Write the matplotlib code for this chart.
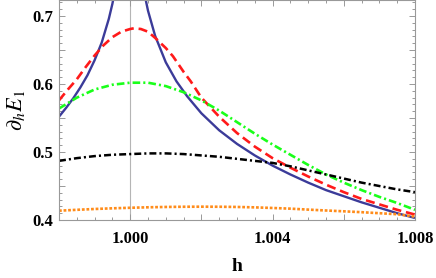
import matplotlib
matplotlib.use("Agg")
import matplotlib.pyplot as plt
from matplotlib.ticker import MultipleLocator, FuncFormatter

# readings
h_blue_left = [0.9980, 0.9982, 0.9984, 0.9986, 0.9988, 0.9990, 0.9992, 0.9994, 0.9995, 0.9996, 0.9997]
E_blue_left = [0.552, 0.565, 0.579, 0.595, 0.613, 0.635, 0.661, 0.696, 0.718, 0.745, 0.780]
h_blue_right = [1.0003, 1.0004, 1.0005, 1.0007, 1.0010, 1.0013, 1.0016, 1.0020, 1.0025, 1.0030,
                1.0035, 1.0040, 1.0045, 1.0050, 1.0055, 1.0060, 1.0065, 1.0070, 1.0075, 1.0080]
E_blue_right = [0.764, 0.733, 0.708, 0.671, 0.632, 0.604, 0.582, 0.557, 0.532, 0.512,
                0.495, 0.480, 0.467, 0.455, 0.444, 0.435, 0.426, 0.418, 0.410, 0.403]

h_red = [0.9980, 0.99825, 0.9985, 0.99875, 0.9990, 0.99925, 0.9995, 0.99975, 1.0000, 1.0001,
         1.0003, 1.0005, 1.0007, 1.0010, 1.0012, 1.0015, 1.0017, 1.0020, 1.0025, 1.0030,
         1.0035, 1.0040, 1.0045, 1.0050, 1.0055, 1.0060, 1.0065, 1.0070, 1.0075, 1.0080]
E_red = [0.576, 0.592, 0.607, 0.625, 0.642, 0.657, 0.669, 0.677, 0.681, 0.682,
         0.681, 0.677, 0.668, 0.653, 0.641, 0.618, 0.604, 0.580, 0.552, 0.528,
         0.508, 0.491, 0.477, 0.464, 0.452, 0.441, 0.431, 0.423, 0.415, 0.408]

h_grid = [0.9980, 0.9985, 0.9990, 0.9995, 1.0000, 1.0005, 1.0010, 1.0015, 1.0020, 1.0025, 1.0030,
          1.0035, 1.0040, 1.0045, 1.0050, 1.0055, 1.0060, 1.0065, 1.0070, 1.0075, 1.0080]
E_green = [0.564, 0.580, 0.592, 0.599, 0.602, 0.602, 0.597, 0.588, 0.576, 0.561, 0.544,
           0.527, 0.511, 0.496, 0.481, 0.467, 0.455, 0.444, 0.434, 0.425, 0.415]
E_black = [0.487, 0.491, 0.494, 0.496, 0.497, 0.498, 0.498, 0.497, 0.495, 0.493, 0.490,
           0.487, 0.484, 0.479, 0.473, 0.467, 0.461, 0.455, 0.450, 0.445, 0.441]
E_orange = [0.4137, 0.4150, 0.4162, 0.4172, 0.4180, 0.4187, 0.4192, 0.4195, 0.4196, 0.4195, 0.4192,
            0.4186, 0.4177, 0.4167, 0.4153, 0.4140, 0.4128, 0.4115, 0.4100, 0.4085, 0.4050]

x_labels = [1.000, 1.004, 1.008]
y_labels = [0.4, 0.5, 0.6, 0.7]

plt.rcParams['lines.scale_dashes'] = False
plt.rcParams['mathtext.fontset'] = 'stix'

fig = plt.figure(figsize=(4.36, 2.78), dpi=100)
ax = fig.add_axes([0.1353, 0.2086, 0.8165, 0.791])

ax.axvline(1.0, color='#b5b5b5', lw=0.8, zorder=1)

ax.plot(h_blue_left, E_blue_left, color='#3b3b99', lw=1.7, solid_capstyle='butt')
ax.plot(h_blue_right, E_blue_right, color='#3b3b99', lw=1.7, solid_capstyle='butt')
ax.plot(h_red, E_red, color='#ff1a1a', lw=1.9, dashes=(6.5, 3.5))
ax.plot(h_grid, E_green, color='#1aff1a', lw=1.9, dashes=(5.5, 2.2, 1.5, 2.2))
ax.plot(h_grid, E_black, color='black', lw=1.8, dashes=(5.0, 2.2, 1.5, 2.2))
ax.plot(h_grid, E_orange, color='#ff8c1a', lw=1.9, dashes=(2.0, 1.3))

ax.set_xlim(0.998, 1.008)
ax.set_ylim(0.4, 0.7235)

ax.xaxis.set_major_locator(MultipleLocator(0.002))
ax.xaxis.set_minor_locator(MultipleLocator(0.0005))
ax.yaxis.set_major_locator(MultipleLocator(0.05))
ax.yaxis.set_minor_locator(MultipleLocator(0.01))

def xfmt(v, pos):
    for t in x_labels:
        if abs(v - t) < 1e-7:
            return f"{t:.3f}"
    return ""

def yfmt(v, pos):
    for t in y_labels:
        if abs(v - t) < 1e-7:
            return f"{t:.1f}"
    return ""

ax.xaxis.set_major_formatter(FuncFormatter(xfmt))
ax.yaxis.set_major_formatter(FuncFormatter(yfmt))

for s in ax.spines.values():
    s.set_color('#999999')
    s.set_linewidth(0.8)
ax.tick_params(which='both', direction='in', top=True, right=True, color='#999999', width=0.7)
ax.tick_params(which='major', length=4)
ax.tick_params(which='minor', length=2)
for lab in ax.get_xticklabels() + ax.get_yticklabels():
    lab.set_fontfamily('Liberation Serif')
    lab.set_fontweight('bold')
    lab.set_fontsize(12)
ax.tick_params(axis='x', pad=8)
ax.tick_params(axis='y', pad=4)

ax.set_xlabel('h', fontfamily='Liberation Serif', fontweight='bold', fontsize=14, labelpad=8)
ax.set_ylabel(r'$\partial_h E_1$', fontsize=16, labelpad=4)

fig.savefig('out.png', dpi=100)
